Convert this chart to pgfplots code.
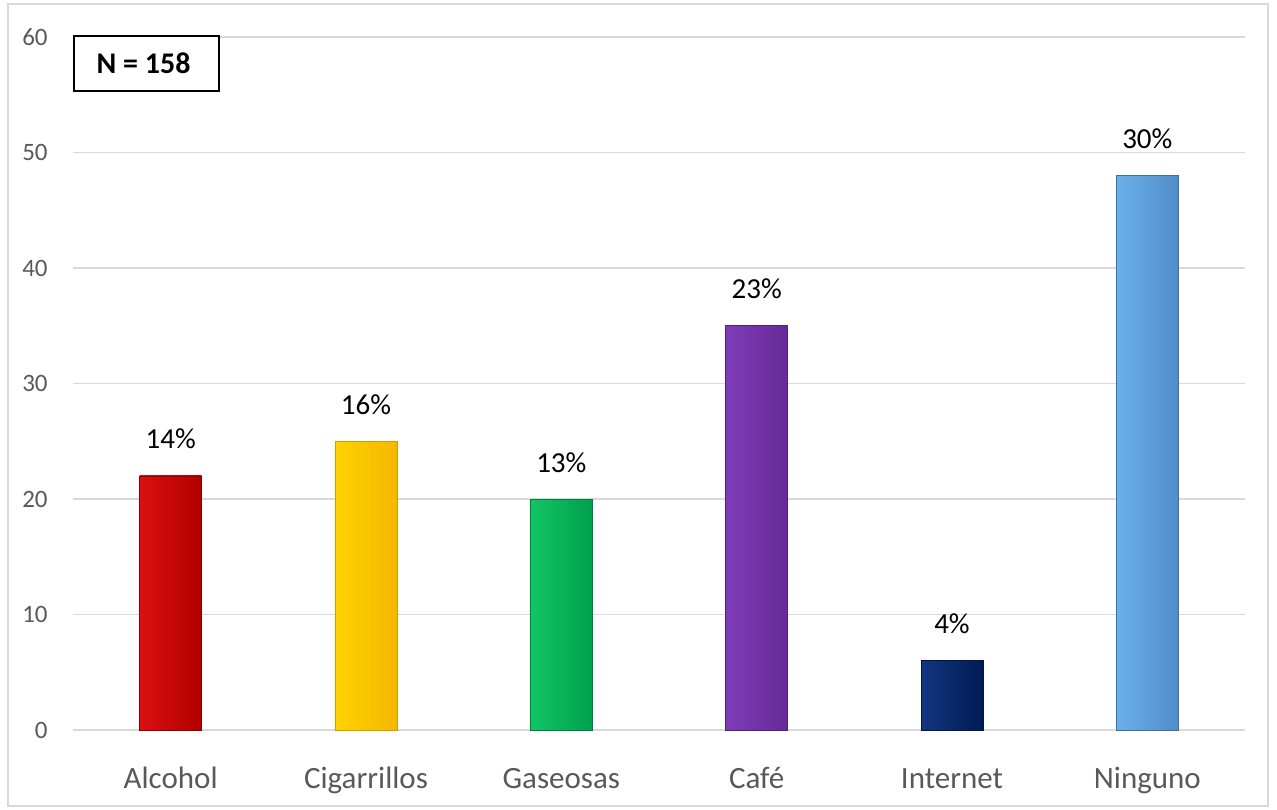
\documentclass[border=0pt]{standalone}
\usepackage{pgfplots}
\pgfplotsset{compat=1.18}
\usepackage{fontspec}
\setmainfont{Carlito}
\definecolor{gridc}{HTML}{D9D9D9}
\definecolor{tickc}{HTML}{595959}
\definecolor{redA}{HTML}{DC1010}\definecolor{redB}{HTML}{B00000}
\definecolor{yelA}{HTML}{FFD200}\definecolor{yelB}{HTML}{F5B800}
\definecolor{grnA}{HTML}{12C565}\definecolor{grnB}{HTML}{00A04C}
\definecolor{purA}{HTML}{7E3CBA}\definecolor{purB}{HTML}{662A96}
\definecolor{navA}{HTML}{133580}\definecolor{navB}{HTML}{001C55}
\definecolor{bluA}{HTML}{6BB0EC}\definecolor{bluB}{HTML}{4F8CC8}
\begin{document}
\begin{tikzpicture}
\useasboundingbox (0,0) rectangle (638.5pt,404.5pt);
\draw[gridc, line width=0.75pt] (4pt,1.5pt) rectangle (634pt,402.5pt);
\begin{axis}[
  at={(36.5pt,39.5pt)}, anchor=south west,
  scale only axis, width=586pt, height=346.5pt,
  xmin=-0.5, xmax=5.5, ymin=0, ymax=60,
  ytick={0,10,...,60},
  xtick={0,1,2,3,4,5},
  xticklabels={Alcohol,Cigarrillos,Gaseosas,Café,Internet,Ninguno},
  axis line style={draw=none},
  major tick length=0pt,
  ymajorgrids, grid style={gridc, line width=0.75pt},
  xticklabel style={font=\fontsize{15.5}{18}\selectfont, color=tickc, anchor=base, inner sep=0pt, yshift=-29pt},
  yticklabel style={font=\fontsize{12.5}{14}\selectfont, color=tickc, anchor=east, inner sep=0pt, xshift=-12.5pt},
  /pgf/number format/assume math mode=true,
  ybar, bar width=31pt, bar shift=0pt,
  point meta=explicit symbolic,
  nodes near coords,
  every node near coord/.style={font=\fontsize{14.5}{17}\selectfont, color=black, anchor=base, inner sep=0pt, yshift=13.5pt},
  clip=false,
]
\addplot[draw=redB!80!black, line width=0.3pt, shade, left color=redA, right color=redB] coordinates {(0,22) [14\%]};
\addplot[draw=yelB!85!black, line width=0.3pt, shade, left color=yelA, right color=yelB] coordinates {(1,25) [16\%]};
\addplot[draw=grnB!80!black, line width=0.3pt, shade, left color=grnA, right color=grnB] coordinates {(2,20) [13\%]};
\addplot[draw=purB!80!black, line width=0.3pt, shade, left color=purA, right color=purB] coordinates {(3,35) [23\%]};
\addplot[draw=navB!80!black, line width=0.3pt, shade, left color=navA, right color=navB] coordinates {(4,6) [4\%]};
\addplot[draw=bluB!80!black, line width=0.3pt, shade, left color=bluA, right color=bluB] coordinates {(5,48) [30\%]};
\node[draw=black, line width=1pt, fill=white, anchor=north west, minimum width=72.5pt, minimum height=27.5pt, inner sep=0pt, font=\fontsize{15}{18}\selectfont\bfseries] at ([yshift=1pt]rel axis cs:0,1) {\hspace*{-3pt}N = 158};
\end{axis}
\end{tikzpicture}
\end{document}
